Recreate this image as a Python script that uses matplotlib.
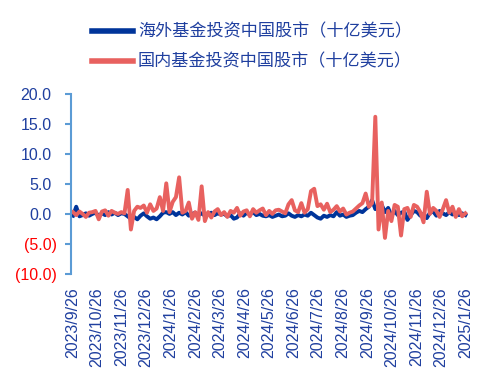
import numpy as np
import pandas as pd
import matplotlib
matplotlib.use("Agg")
import matplotlib.pyplot as plt
import matplotlib.dates as mdates
from matplotlib.ticker import FixedLocator, FuncFormatter
from matplotlib.transforms import ScaledTranslation

plt.rcParams['font.family'] = ['Liberation Sans', 'Noto Sans CJK SC', 'DejaVu Sans']

# 数据：2023/9/26 起每 4 天一个点（十亿美元）
dates = pd.date_range("2023-09-26", periods=123, freq="4D")

overseas = [
    -0.3, 1.2, -0.4, -0.2, 0.1, -0.3, 0.0, 0.2, -0.3, 0.1,
    -0.2, 0.3, -0.1, 0.2, -0.2, 0.1, 0.0, -0.4, -0.8, -0.5,
    -0.9, -0.3, 0.1, -0.4, -0.8, -0.6, -0.9, -0.4, 0.2, 0.3,
    0.0, 0.3, -0.2, 0.2, -0.1, 0.3, -0.3, 0.0, 0.2, -0.2,
    0.1, -0.3, 0.0, 0.2, -0.2, 0.1, -0.1, 0.0, -0.4, -0.2,
    -0.8, -0.6, 0.1, -0.3, 0.2, -0.1, 0.3, -0.2, 0.0, -0.3,
    -0.4, -0.2, -0.5, -0.3, -0.1, -0.4, -0.3, 0.1, -0.3, -0.5,
    -0.2, -0.4, -0.1, -0.3, 0.2, -0.2, -0.6, -0.8, -0.3, -0.5,
    -0.2, -0.4, 0.3, -0.3, -0.1, -0.5, -0.3, -0.2, 0.2, 0.5,
    0.3, 0.8, 1.2, 2.3, 0.8, 1.2, 1.5, 0.3, 1.0, -0.3,
    0.5, -0.2, 0.2, 0.4, -1.0, -0.2, 0.5, 0.3, -0.3, 0.0,
    -0.7, 0.2, 0.4, -0.3, 0.5, 0.1, -0.2, 0.3, -0.1, 0.2,
    -0.2, 0.1, -0.2,
]

domestic = [
    0.3, -0.2, 0.4, 0.0, -0.5, 0.2, 0.3, 0.5, -0.9, 0.4,
    0.6, -0.3, 0.5, 0.2, 0.0, 0.3, 0.1, 4.0, -2.6, 0.5,
    1.2, 1.0, 1.4, 0.2, 1.6, 0.5, 0.9, 2.8, 0.5, 5.1,
    0.3, 2.0, 2.8, 6.1, 0.2, 0.5, 1.9, -0.8, 0.3, -1.0,
    4.6, -1.2, 0.3, -0.6, 0.4, 0.8, -0.2, 0.3, -0.5, 0.5,
    0.2, 1.0, -0.3, 0.4, 0.6, -0.4, 0.8, 0.2, 0.6, 0.9,
    -0.2, 0.5, 0.0, 0.6, 0.7, 0.4, 0.1, 1.6, 2.3, 0.6,
    0.3, 1.8, 0.2, 0.8, 3.8, 4.2, 1.3, 1.6, 0.7, 1.7,
    0.3, 0.7, 1.3, 0.4, 0.9, -0.1, 0.2, 0.4, 0.9, 1.4,
    1.8, 3.4, 1.2, 1.8, 16.2, -2.6, 1.9, -4.0, 0.5, -1.2,
    1.5, 1.2, -3.6, 0.8, 1.0, -0.5, 1.5, 1.2, 0.3, -1.4,
    3.7, 0.0, 1.0, 0.5, -0.5, 0.8, 2.3, 0.2, 1.2, -0.5,
    0.8, -0.4, 0.1,
]

labels = ["海外基金投资中国股市（十亿美元）", "国内基金投资中国股市（十亿美元）"]
yticks = [-10, -5, 0, 5, 10, 15, 20]
xtick_dates = pd.date_range("2023-09-01", "2025-01-01", freq="MS") + pd.Timedelta(days=25)

BLUE = "#00349a"
RED = "#e8615f"
TXT = "#1f3f9f"
SPINE = "#5b9bd5"


def fmt_y(v, pos):
    if v < 0:
        return "(%.1f)" % abs(v)
    return "%.1f" % v


def main():
    fig = plt.figure(figsize=(4.91, 3.82), dpi=100)
    ax = fig.add_axes([0.1446, 0.283, 0.813, 0.471])

    ax.plot(dates, overseas, color=BLUE, lw=2.8, label=labels[0])
    ax.plot(dates, domestic, color=RED, lw=2.8, label=labels[1])

    ax.set_ylim(-10, 20)
    ax.set_xlim(dates[0] - pd.Timedelta(days=2.5), dates[-1] + pd.Timedelta(days=6))

    for s in ["top", "right", "bottom"]:
        ax.spines[s].set_visible(False)
    ax.spines["left"].set_color(SPINE)
    ax.spines["left"].set_linewidth(1.5)

    ax.yaxis.set_major_locator(FixedLocator(yticks))
    ax.yaxis.set_major_formatter(FuncFormatter(fmt_y))
    ax.tick_params(axis="y", direction="out", length=4, width=1.5, color=SPINE,
                   pad=10, labelsize=11.5, labelcolor=TXT)

    ax.set_xticks(mdates.date2num(xtick_dates))
    ax.set_xticklabels(["%d/%d/%d" % (d.year, d.month, d.day) for d in xtick_dates],
                       rotation=90)
    ax.tick_params(axis="x", length=0, pad=9.5, labelsize=11.5, labelcolor=TXT)

    fig.canvas.draw()
    shift = ScaledTranslation(5 / 100, 0, fig.dpi_scale_trans)
    for lbl, v in zip(ax.get_yticklabels(), yticks):
        if v < 0:
            lbl.set_color("#ff0000")
            lbl.set_transform(lbl.get_transform() + shift)

    leg = fig.legend(loc="upper left", bbox_to_anchor=(0.187, 0.939), frameon=False,
                     fontsize=12.3, handlelength=2.4, handletextpad=0.3,
                     labelspacing=0.8, borderpad=0, borderaxespad=0)
    for t in leg.get_texts():
        t.set_color(TXT)
    for h in leg.get_lines():
        h.set_linewidth(4)

    fig.savefig("out.png", dpi=100)


if __name__ == "__main__":
    main()
